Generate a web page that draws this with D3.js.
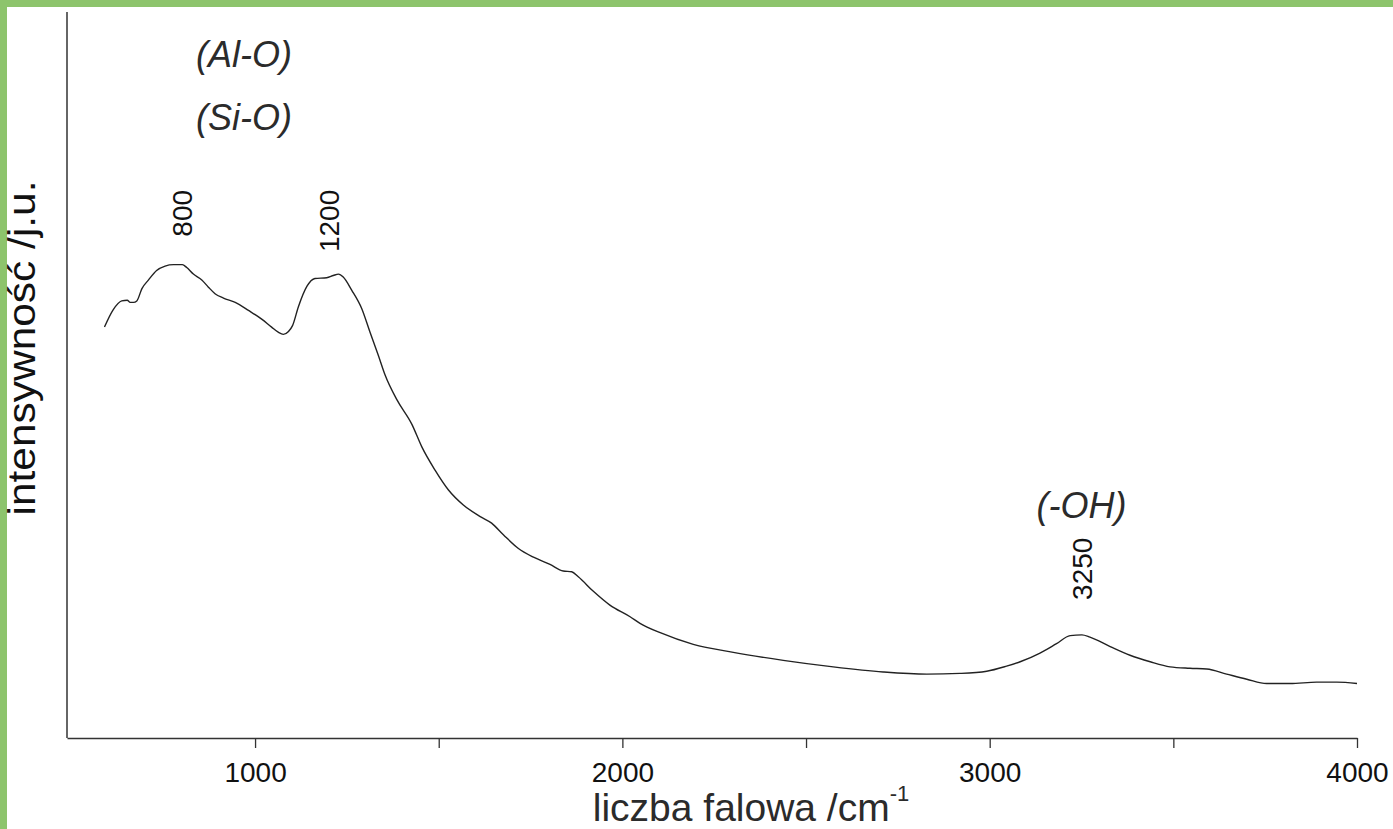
<!DOCTYPE html>
<html>
<head>
<meta charset="utf-8">
<script src="https://cdn.jsdelivr.net/npm/d3@7"></script>
<style>
  html, body { margin: 0; padding: 0; background: #fff; }
  svg { display: block; }
</style>
</head>
<body>
<div id="chart"></div>
<script>
/* widmo - intensywnosc vs liczba falowa */

// liczba falowa /cm-1
const wavenumber = [590, 614, 637, 652, 660, 669, 678, 692, 710, 732, 755, 778, 802, 814, 832, 855, 873, 891, 914, 946,
  982, 1018, 1045, 1063, 1077, 1091, 1102, 1118, 1141, 1163, 1195, 1213, 1227, 1240, 1263, 1290, 1313, 1335,
  1354, 1386, 1427, 1454, 1490, 1526, 1567, 1613, 1644, 1676, 1717, 1758, 1803, 1839, 1862, 1880, 1921, 1966, 2021, 2048,
  2103, 2193, 2302, 2438, 2574, 2710, 2829, 2919, 2992, 3046, 3083, 3137, 3182, 3219, 3251, 3273, 3328, 3382, 3437, 3491,
  3545, 3591, 3645, 3700, 3754, 3818, 3890, 3945, 4000];
// intensywnosc /j.u.
const intensity = [56.6, 59.0, 60.2, 60.3, 60.0, 60.0, 60.2, 61.9, 63.1, 64.4, 65.0, 65.2, 65.2, 64.8, 63.9, 63.1, 62.1, 61.2, 60.6, 60.0,
  58.9, 57.7, 56.6, 55.9, 55.6, 56.0, 56.8, 59.4, 62.2, 63.3, 63.4, 63.7, 63.9, 63.5, 61.7, 59.2, 55.9, 52.8,
  50.0, 46.6, 43.2, 40.1, 36.9, 34.2, 32.1, 30.5, 29.6, 28.0, 26.1, 24.9, 23.9, 23.0, 22.9, 22.2, 20.2, 18.3, 16.7, 15.8,
  14.5, 12.9, 11.8, 10.7, 9.8, 9.1, 8.8, 8.9, 9.2, 9.9, 10.5, 11.7, 13.0, 14.1, 14.2, 13.9, 12.6, 11.4, 10.5, 9.8,
  9.6, 9.5, 8.8, 8.1, 7.5, 7.5, 7.7, 7.7, 7.5];

const xTicks = [1000, 1500, 2000, 2500, 3000, 3500, 4000];
const xTickLabels = [1000, 2000, 3000, 4000];

const peaks = [800, 1200, 3250];
const peakGap = [28, 22, 35]; // px nad pikiem

const bandLabels = ["(Al-O)", "(Si-O)", "(-OH)"];
const bandX = [970, 970, 3250];
const bandY = [92.4, 83.7, 30.3];

const W = 1393, H = 829;
const margin = {top: 12, right: 36, bottom: 91, left: 67};
const w = W - margin.left - margin.right,
      h = H - margin.top - margin.bottom;

const font = "'Liberation Sans', Arial, Helvetica, sans-serif";

const svg = d3.select("#chart").append("svg")
  .attr("width", W)
  .attr("height", H);

// zielona ramka
svg.append("rect").attr("x", 0).attr("y", 0).attr("width", W).attr("height", 7).attr("fill", "#8dc46c");
svg.append("rect").attr("x", 0).attr("y", 0).attr("width", 7).attr("height", H).attr("fill", "#8dc46c");

const g = svg.append("g").attr("transform", `translate(${margin.left},${margin.top})`);

const x = d3.scaleLinear().domain([488, 4000]).range([0, w]);
const y = d3.scaleLinear().domain([0, 100]).range([h, 0]);

const data = wavenumber.map((v, i) => ({wn: v, it: intensity[i]}));

// os x
const xAxis = g.append("g")
  .attr("transform", `translate(0,${h})`)
  .call(d3.axisBottom(x)
    .tickValues(xTicks)
    .tickSize(10)
    .tickSizeOuter(0)
    .tickPadding(14)
    .tickFormat(d => xTickLabels.includes(d) ? d : ""));
xAxis.select(".domain").attr("stroke", "#333").attr("stroke-width", 1.5);
xAxis.selectAll(".tick line").attr("stroke", "#333").attr("stroke-width", 1.3);
xAxis.selectAll("text")
  .attr("font-family", font)
  .attr("font-size", 28)
  .attr("fill", "#111");

// os y (bez podzialki)
g.append("line")
  .attr("x1", 0).attr("x2", 0)
  .attr("y1", 0).attr("y2", h)
  .attr("stroke", "#333").attr("stroke-width", 1.5);

// widmo
const line = d3.line()
  .x(d => x(d.wn))
  .y(d => y(d.it))
  .curve(d3.curveMonotoneX);

g.append("path")
  .datum(data)
  .attr("fill", "none")
  .attr("stroke", "#222")
  .attr("stroke-width", 1.4)
  .attr("d", line);

// etykiety pikow
peaks.forEach((p, i) => {
  const near = data.filter(d => Math.abs(d.wn - p) < 40);
  const top = d3.max(near, d => d.it);
  const px = x(p), py = y(top) - peakGap[i];
  g.append("text")
    .attr("transform", `translate(${px},${py}) rotate(-90)`)
    .attr("dy", "0.36em")
    .attr("text-anchor", "start")
    .attr("font-family", font)
    .attr("font-size", 28)
    .attr("fill", "#111")
    .text(p);
});

// pasma
bandLabels.forEach((t, i) => {
  g.append("text")
    .attr("x", x(bandX[i]))
    .attr("y", y(bandY[i]))
    .attr("text-anchor", "middle")
    .attr("font-family", font)
    .attr("font-style", "italic")
    .attr("font-size", 36)
    .attr("fill", "#2b2b2b")
    .text(t);
});

// tytuly osi
const xt = svg.append("text")
  .attr("x", 751)
  .attr("y", 821)
  .attr("text-anchor", "middle")
  .attr("font-family", font)
  .attr("font-size", 39)
  .attr("fill", "#2b2b2b");
xt.append("tspan").text("liczba falowa /cm");
xt.append("tspan").attr("font-size", 22).attr("dy", -20).text("-1");

svg.append("text")
  .attr("transform", "translate(35,348) rotate(-90)")
  .attr("text-anchor", "middle")
  .attr("font-family", font)
  .attr("font-size", 39)
  .attr("textLength", 335)
  .attr("lengthAdjust", "spacingAndGlyphs")
  .attr("fill", "#111")
  .text("intensywność /j.u.");
</script>
</body>
</html>
